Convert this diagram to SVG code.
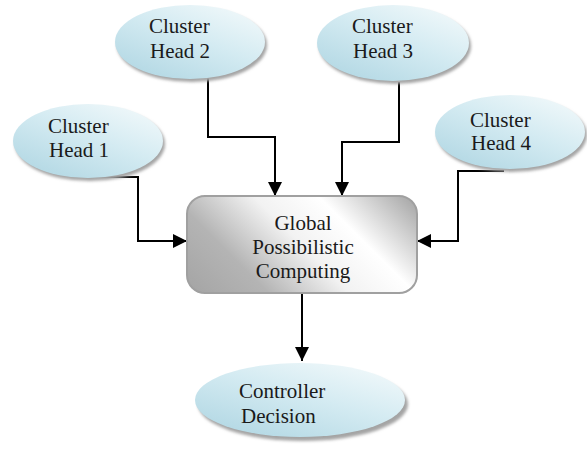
<svg xmlns="http://www.w3.org/2000/svg" width="587" height="450" viewBox="0 0 587 450">
<style>
.ell{fill:url(#blue)}
.sh{fill:#a4a4a4;filter:url(#blur)}
.t{font-family:"Liberation Serif","Times New Roman",serif;font-size:21px;fill:#1a1a1a}
.c{fill:none;stroke:#000;stroke-width:2;marker-end:url(#arr)}
</style>
<defs>
<linearGradient id="blue" x1="0" y1="1" x2="0.8" y2="0">
<stop offset="0" stop-color="#acd4e1"/>
<stop offset="0.6" stop-color="#d4ebf2"/>
<stop offset="1" stop-color="#f0f8fa"/>
</linearGradient>
<linearGradient id="gray" gradientUnits="userSpaceOnUse" x1="187" y1="293" x2="350" y2="130">
<stop offset="0" stop-color="#a4a4a4"/>
<stop offset="0.25" stop-color="#b4b4b4"/>
<stop offset="0.5" stop-color="#f2f2f2"/>
<stop offset="0.7" stop-color="#ffffff"/>
<stop offset="1" stop-color="#a2a2a2"/>
</linearGradient>
<filter id="blur" x="-10%" y="-10%" width="120%" height="130%"><feGaussianBlur stdDeviation="1.5"/></filter>
<marker id="arr" viewBox="0 0 14 14" refX="14" refY="7" markerWidth="14" markerHeight="14" markerUnits="userSpaceOnUse" orient="auto">
<path d="M0,0 L14,7 L0,14 Z" fill="#000"/>
</marker>
</defs>
<g id="connectors">
<path class="c" d="M90,177 H138 V241 H187"/>
<path class="c" d="M208,78 V137 H275 V196"/>
<path class="c" d="M399,82 V142 H342 V196"/>
<path class="c" d="M504,171 H458 V241 H417"/>
<path class="c" d="M302,293 V361"/>
</g>
<g id="ch2">
<ellipse class="sh" cx="192" cy="45" rx="75" ry="37"/>
<ellipse class="ell" cx="190" cy="42" rx="75" ry="37"/>
<text class="t" x="149" y="33">Cluster</text>
<text class="t" x="150" y="58">Head 2</text>
</g>
<g id="ch3">
<ellipse class="sh" cx="395" cy="46" rx="76" ry="38"/>
<ellipse class="ell" cx="393" cy="43" rx="76" ry="38"/>
<text class="t" x="352" y="33">Cluster</text>
<text class="t" x="353" y="58">Head 3</text>
</g>
<g id="ch1">
<ellipse class="sh" cx="90" cy="144" rx="75" ry="37"/>
<ellipse class="ell" cx="88" cy="141" rx="75" ry="37"/>
<text class="t" x="48" y="133">Cluster</text>
<text class="t" x="49" y="157">Head 1</text>
</g>
<g id="ch4">
<ellipse class="sh" cx="512" cy="135" rx="75" ry="37"/>
<ellipse class="ell" cx="510" cy="132" rx="75" ry="37"/>
<text class="t" x="470" y="127">Cluster</text>
<text class="t" x="471" y="150">Head 4</text>
</g>
<g id="global">
<rect x="187" y="196" width="230" height="97" rx="18" fill="url(#gray)" stroke="#a0a0a0" stroke-width="2"/>
<text class="t" x="303" y="230" text-anchor="middle">Global</text>
<text class="t" x="303" y="254" text-anchor="middle">Possibilistic</text>
<text class="t" x="303" y="278" text-anchor="middle">Computing</text>
</g>
<g id="decision">
<ellipse class="sh" cx="303" cy="404" rx="105" ry="37"/>
<ellipse class="ell" cx="300" cy="400" rx="105" ry="37"/>
<text class="t" x="239" y="398">Controller</text>
<text class="t" x="241" y="423">Decision</text>
</g>
</svg>
